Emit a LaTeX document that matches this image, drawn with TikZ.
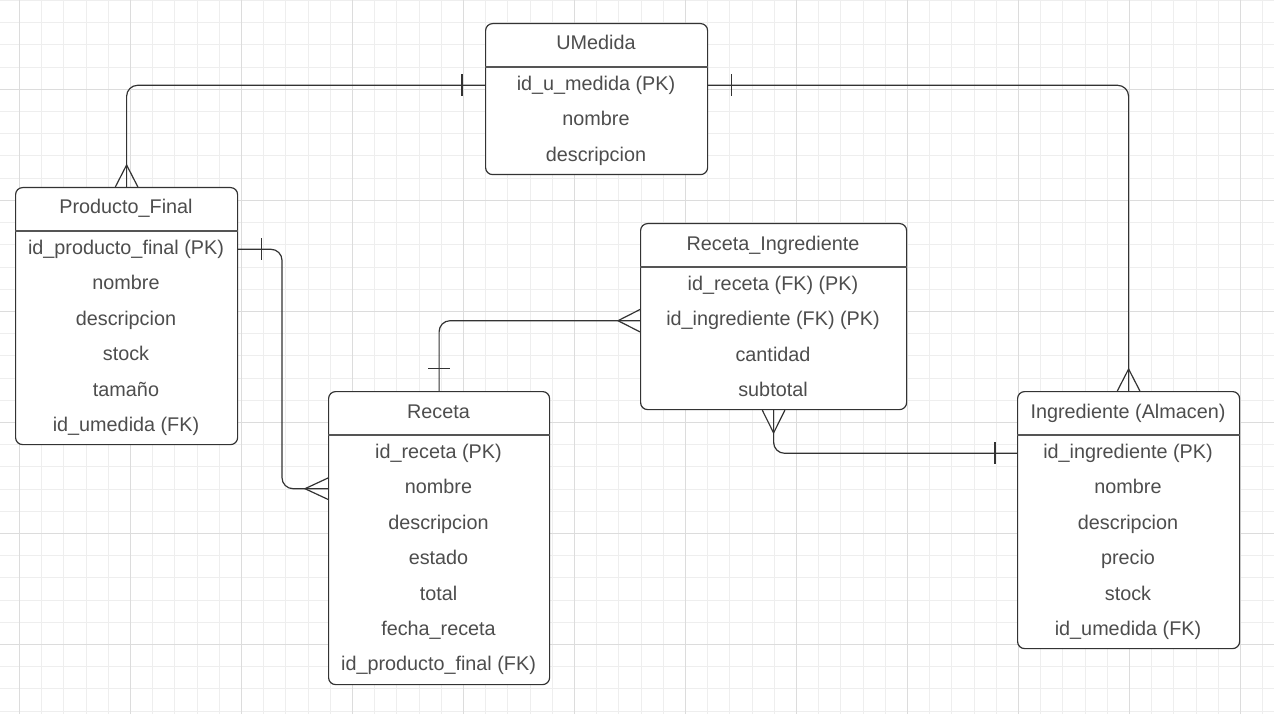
\documentclass[tikz,border=0pt]{standalone}
\usepackage{fontspec}
\setmainfont{Liberation Sans}
\usetikzlibrary{calc}
\definecolor{linec}{HTML}{333333}
\definecolor{txtc}{HTML}{4D4D4D}
\definecolor{gridminor}{HTML}{EEEEEE}
\definecolor{gridmajor}{HTML}{DCDCDC}
\definecolor{sepc}{HTML}{555555}
\newcommand{\erfont}{\fontsize{19.8}{24}\selectfont}
\tikzset{
  tbl/.style={draw=linec, fill=white, rounded corners=7pt, line width=1.2pt, inner sep=0pt},
  ttl/.style={anchor=base, text=txtc, font=\erfont, inner sep=0pt},
  sepline/.style={draw=sepc, line width=1.2pt},
  erline/.style={draw=linec, line width=1.2pt},
  conn/.style={erline, rounded corners=11pt},
  gminor/.style={draw=gridminor, line width=0.8pt},
  gmajor/.style={draw=gridmajor, line width=1pt}
}
\newcommand{\erent}[7]{%
  \node[tbl, anchor=north west, minimum width=#4pt, minimum height=#5pt] (#1) at (#2,#3) {};
  \node[ttl] (#1-t) at ({#2+#4/2},{#3+27}) {#6};
  \draw[sepline] ($(#1.north west)+(0,44)$) -- ($(#1.north east)+(0,44)$);
  \foreach \t [count=\i] in {#7} {\node[ttl] (#1-\i) at ({#2+#4/2},{#3+67.5+35.4*(\i-1)}) {\t};}
}
\begin{document}
\begin{tikzpicture}[x=1pt,y=-1pt]
\useasboundingbox (0,0) rectangle (1274,714);
\fill[white] (0,0) rectangle (1274,714);
% grid
\foreach \k in {0,...,57} {\draw[gminor] ({-2.9+22.2*\k},0) -- ++(0,714);}
\foreach \k in {0,...,32} {\draw[gminor] (0,{0.5+22.2*\k}) -- ++(1274,0);}
\foreach \m in {0,...,11} {\draw[gmajor] ({19.3+111*\m},0) -- ++(0,714);}
\foreach \m in {0,...,5} {\draw[gmajor] (0,{89.3+111*\m}) -- ++(1274,0);}

% entities
\erent{um}{485}{23}{222}{151}{UMedida}{id\_u\_medida (PK),nombre,descripcion}
\erent{pf}{15}{187}{222}{257}{Producto\_Final}{id\_producto\_final (PK),nombre,descripcion,stock,tamaño,id\_umedida (FK)}
\erent{ri}{640}{223}{266}{186}{Receta\_Ingrediente}{id\_receta (FK) (PK),id\_ingrediente (FK) (PK),cantidad,subtotal}
\erent{rec}{328}{391}{221}{293}{Receta}{id\_receta (PK),nombre,descripcion,estado,total,fecha\_receta,id\_producto\_final (FK)}
\erent{ing}{1017}{391}{222}{257}{Ingrediente (Almacen)}{id\_ingrediente (PK),nombre,descripcion,precio,stock,id\_umedida (FK)}

% UMedida -> Producto_Final
\draw[conn] (um.west |- 0,85.3) -| (pf.north);
\draw[erline] ($(um.west |- 0,85.3)+(-23,-11)$) -- ++(0,22);
\draw[erline] ($(pf.north)+(-11.3,0)$) -- ($(pf.north)+(0,-22)$) -- ($(pf.north)+(11.3,0)$);

% UMedida -> Ingrediente
\draw[conn] (um.east |- 0,85.3) -| (ing.north);
\draw[erline] ($(um.east |- 0,85.3)+(23,-11)$) -- ++(0,22);
\draw[erline] ($(ing.north)+(-11.3,0)$) -- ($(ing.north)+(0,-22)$) -- ($(ing.north)+(11.3,0)$);

% Producto_Final -> Receta
\draw[conn] (pf.east |- 0,249.3) -- (282,249.3) -- (282,488.7) -- (rec.west |- 0,488.7);
\draw[erline] ($(pf.east |- 0,249.3)+(23,-11)$) -- ++(0,22);
\draw[erline] ($(rec.west |- 0,488.7)+(0,-10.7)$) -- ($(rec.west |- 0,488.7)+(-23,0)$) -- ($(rec.west |- 0,488.7)+(0,10.7)$);

% Receta -> Receta_Ingrediente
\draw[conn] (ri.west |- 0,320.7) -| (rec.north);
\draw[erline] ($(rec.north)+(-11,-22.3)$) -- ++(22,0);
\draw[erline] ($(ri.west |- 0,320.7)+(0,-11.2)$) -- ($(ri.west |- 0,320.7)+(-22,0)$) -- ($(ri.west |- 0,320.7)+(0,11.2)$);

% Ingrediente -> Receta_Ingrediente
\draw[conn] (ing.west |- 0,453.3) -| (ri.south);
\draw[erline] ($(ing.west |- 0,453.3)+(-22,-11)$) -- ++(0,22);
\draw[erline] ($(ri.south)+(-11.3,0)$) -- ($(ri.south)+(0,22.7)$) -- ($(ri.south)+(11.3,0)$);
\end{tikzpicture}
\end{document}
